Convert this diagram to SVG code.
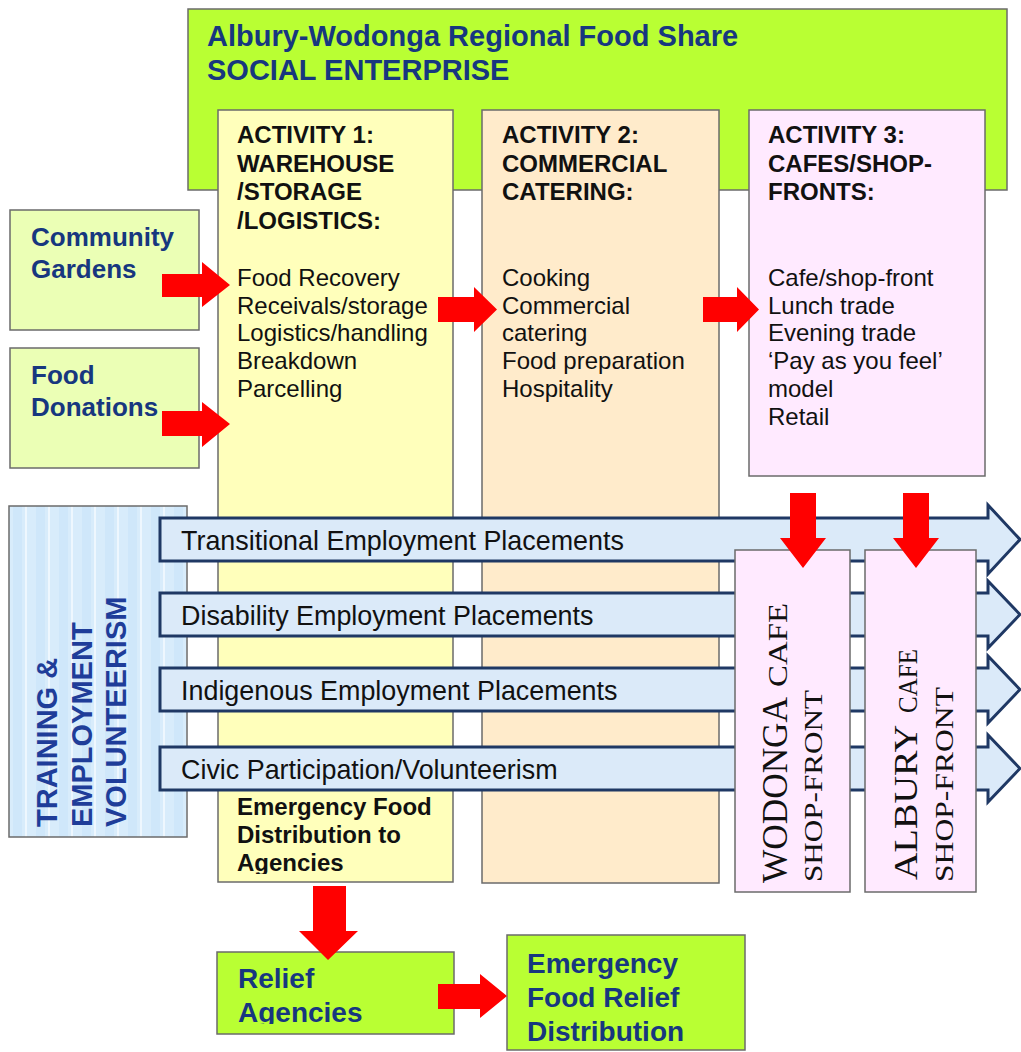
<svg xmlns="http://www.w3.org/2000/svg" width="1021" height="1052" viewBox="0 0 1021 1052">
<style>
.box{stroke:#6b6b6b;stroke-width:1.5}
.lime{fill:#b9ff33}
.lite{fill:#ebffb5}
.a1{fill:#ffffbb}
.a2{fill:#ffebcb}
.a3{fill:#ffeaff}
.hd{font-family:"Liberation Sans",Arial,sans-serif;font-weight:bold;font-size:24px;fill:#111}
.bd{font-family:"Liberation Sans",Arial,sans-serif;font-size:24px;fill:#111}
.nv{font-family:"Liberation Sans",Arial,sans-serif;font-weight:bold;fill:#17377f}
.tr{font-family:"Liberation Sans",Arial,sans-serif;font-weight:bold;font-size:29px;fill:#1f3d99}
.ba{fill:#dbeaf9;stroke:#1f3864;stroke-width:3;stroke-linejoin:miter}
.bt{font-family:"Liberation Sans",Arial,sans-serif;font-size:26.9px;fill:#111}
.red{fill:#ff0000}
.sf{font-family:"Liberation Serif","Times New Roman",serif;fill:#111}
</style>
<defs>
<pattern id="stripes" x="9" y="0" width="23" height="10" patternUnits="userSpaceOnUse">
<rect width="23" height="10" fill="#d8ecfb"/>
<rect x="4" width="9" height="10" fill="#cfe7fa"/>
<rect x="16" width="2" height="10" fill="#eef7fe"/>
</pattern>
<clipPath id="clipA1"><rect x="218" y="110" width="235" height="764"/></clipPath>
<clipPath id="clipRel"><rect x="217" y="952" width="237" height="72"/></clipPath>
</defs>

<g id="social-enterprise">
<rect class="box lime" x="188" y="9" width="819" height="181"/>
<text class="nv" font-size="29" x="207" y="46">Albury-Wodonga Regional Food Share</text>
<text class="nv" font-size="29" x="207" y="80">SOCIAL ENTERPRISE</text>
</g>

<g id="activity1">
<rect class="box a1" x="218" y="110" width="235" height="772"/>
<text class="hd" x="237" y="143">ACTIVITY 1:</text>
<text class="hd" x="237" y="171.5">WAREHOUSE</text>
<text class="hd" x="237" y="200">/STORAGE</text>
<text class="hd" x="237" y="228.5">/LOGISTICS:</text>
<text class="bd" x="237" y="286">Food Recovery</text>
<text class="bd" x="237" y="314">Receivals/storage</text>
<text class="bd" x="237" y="341">Logistics/handling</text>
<text class="bd" x="237" y="369">Breakdown</text>
<text class="bd" x="237" y="397">Parcelling</text>
</g>

<g id="activity2">
<rect class="box a2" x="482" y="110" width="237" height="773"/>
<text class="hd" x="502" y="143">ACTIVITY 2:</text>
<text class="hd" x="502" y="171.5">COMMERCIAL</text>
<text class="hd" x="502" y="200">CATERING:</text>
<text class="bd" x="502" y="286">Cooking</text>
<text class="bd" x="502" y="314">Commercial</text>
<text class="bd" x="502" y="341">catering</text>
<text class="bd" x="502" y="369">Food preparation</text>
<text class="bd" x="502" y="397">Hospitality</text>
</g>

<g id="activity3">
<rect class="box a3" x="749" y="110" width="236" height="366"/>
<text class="hd" x="768" y="143">ACTIVITY 3:</text>
<text class="hd" x="768" y="171.5">CAFES/SHOP-</text>
<text class="hd" x="768" y="200">FRONTS:</text>
<text class="bd" x="768" y="286">Cafe/shop-front</text>
<text class="bd" x="768" y="314">Lunch trade</text>
<text class="bd" x="768" y="341">Evening trade</text>
<text class="bd" x="768" y="369">‘Pay as you feel’</text>
<text class="bd" x="768" y="397">model</text>
<text class="bd" x="768" y="425">Retail</text>
</g>

<g id="community-gardens">
<rect class="box lite" x="10" y="210" width="189" height="120"/>
<text class="nv" font-size="26" x="31" y="246">Community</text>
<text class="nv" font-size="26" x="31" y="278">Gardens</text>
</g>

<g id="food-donations">
<rect class="box lite" x="10" y="348" width="189" height="120"/>
<text class="nv" font-size="26" x="31" y="384">Food</text>
<text class="nv" font-size="26" x="31" y="416">Donations</text>
</g>

<g id="training">
<rect x="9" y="506" width="178" height="331" fill="url(#stripes)" stroke="#6b6b6b" stroke-width="1.5"/>
<text class="tr" transform="translate(57,827) rotate(-90)">TRAINING &amp;</text>
<text class="tr" transform="translate(92,827) rotate(-90)">EMPLOYMENT</text>
<text class="tr" transform="translate(126,827) rotate(-90)">VOLUNTEERISM</text>
</g>

<g id="placements">
<polygon class="ba" points="160,518 988,518 988,505 1020,539.5 988,574 988,561 160,561"/>
<text class="bt" x="181" y="550">Transitional Employment Placements</text>
<polygon class="ba" points="160,593 988,593 988,581 1020,614.5 988,648 988,636 160,636"/>
<text class="bt" x="181" y="625">Disability Employment Placements</text>
<polygon class="ba" points="160,668 988,668 988,656 1020,689.5 988,723 988,711 160,711"/>
<text class="bt" x="181" y="700">Indigenous Employment Placements</text>
<polygon class="ba" points="160,747 988,747 988,735 1020,768.5 988,802 988,790 160,790"/>
<text class="bt" x="181" y="779">Civic Participation/Volunteerism</text>
</g>

<g id="emergency-distribution" clip-path="url(#clipA1)">
<text class="hd" x="237" y="815">Emergency Food</text>
<text class="hd" x="237" y="843">Distribution to</text>
<text class="hd" x="237" y="871">Agencies</text>
</g>

<g id="wodonga-cafe">
<rect class="box a3" x="735" y="550" width="115" height="342"/>
<g transform="translate(787,883) rotate(-90)">
<text class="sf" font-size="35.5" x="0" y="0" textLength="186" lengthAdjust="spacingAndGlyphs">WODONGA</text>
<text class="sf" font-size="27" x="196" y="0" textLength="84" lengthAdjust="spacingAndGlyphs">CAFE</text>
</g>
<text class="sf" font-size="26" transform="translate(822,882) rotate(-90)" textLength="192" lengthAdjust="spacingAndGlyphs">SHOP-FRONT</text>
</g>

<g id="albury-cafe">
<rect class="box a3" x="865" y="550" width="111" height="342"/>
<g transform="translate(917,880) rotate(-90)">
<text class="sf" font-size="34" x="0" y="0" textLength="155" lengthAdjust="spacingAndGlyphs">ALBURY</text>
<text class="sf" font-size="27" x="167" y="0" textLength="64" lengthAdjust="spacingAndGlyphs">CAFE</text>
</g>
<text class="sf" font-size="26" transform="translate(953,882) rotate(-90)" textLength="195" lengthAdjust="spacingAndGlyphs">SHOP-FRONT</text>
</g>

<g id="relief-agencies">
<rect class="box lime" x="217" y="952" width="237" height="82"/>
<g clip-path="url(#clipRel)">
<text class="nv" font-size="28" x="238" y="988">Relief</text>
<text class="nv" font-size="28" x="238" y="1022">Agencies</text>
</g>
</g>

<g id="emergency-relief">
<rect class="box lime" x="507" y="935" width="238" height="115"/>
<text class="nv" font-size="28" x="527" y="973">Emergency</text>
<text class="nv" font-size="28" x="527" y="1007">Food Relief</text>
<text class="nv" font-size="28" x="527" y="1041">Distribution</text>
</g>

<g id="connectors">
<polygon class="red" points="162,274 202,274 202,262 230,285 202,307 202,297 162,297"/>
<polygon class="red" points="162,411 202,411 202,402 230,424 202,447 202,436 162,436"/>
<polygon class="red" points="438,297 474,297 474,287 497,309.5 474,332 474,322 438,322"/>
<polygon class="red" points="703,297 737,297 737,287 759,309.5 737,332 737,322 703,322"/>
<polygon class="red" points="790,493 816,493 816,538 826,538 803,568 780,538 790,538"/>
<polygon class="red" points="903,493 929,493 929,538 939,538 916,568 893,538 903,538"/>
<polygon class="red" points="313,886 346,886 346,931 358,931 328,960 299,931 313,931"/>
<polygon class="red" points="438,984 480,984 480,974 507,996 480,1018 480,1009 438,1009"/>
</g>
</svg>
